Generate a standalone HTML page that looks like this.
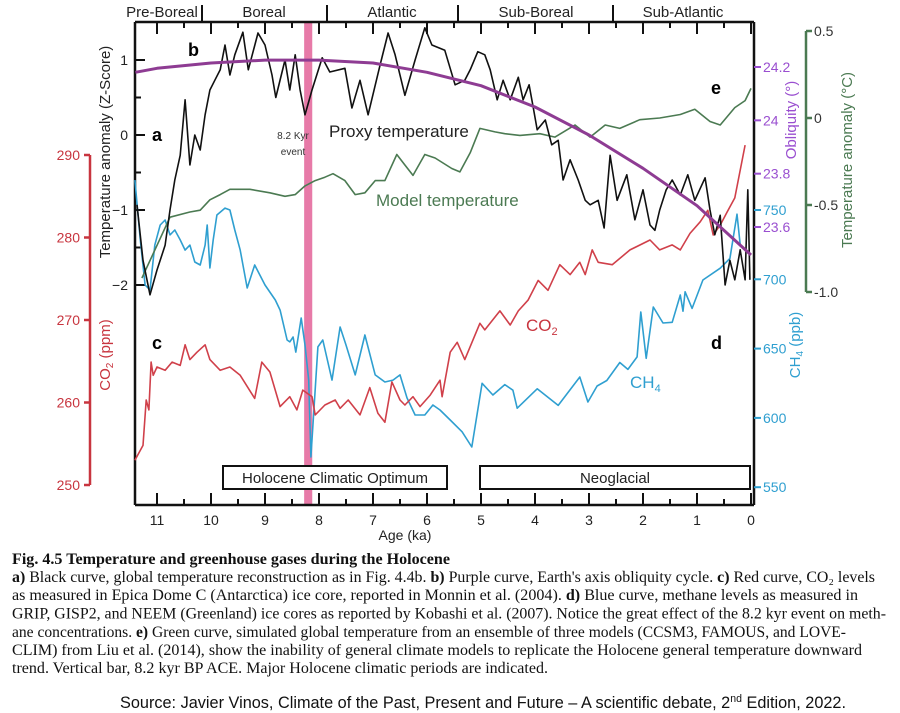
<!DOCTYPE html>
<html><head><meta charset="utf-8"><style>
html,body{margin:0;padding:0;background:#fff;}
svg{display:block;}
.sans{font-family:"Liberation Sans",sans-serif;}
.serif{font-family:"Liberation Serif",serif;}
</style></head><body>
<svg id="chart" width="900" height="713" viewBox="0 0 900 713" xmlns="http://www.w3.org/2000/svg">
<rect x="0" y="0" width="900" height="713" fill="#fff"/>
<g id="plot"></g>
<g class="sans" font-size="15" fill="#222">
<text x="162" y="17" text-anchor="middle">Pre-Boreal</text>
<text x="264" y="17" text-anchor="middle">Boreal</text>
<text x="392" y="17" text-anchor="middle">Atlantic</text>
<text x="536" y="17" text-anchor="middle">Sub-Boreal</text>
<text x="683" y="17" text-anchor="middle">Sub-Atlantic</text>
</g>
<g class="sans">
<text x="188" y="56" font-size="18" font-weight="bold">b</text>
<text x="152" y="141" font-size="18" font-weight="bold">a</text>
<text x="152" y="349" font-size="18" font-weight="bold">c</text>
<text x="711" y="349" font-size="18" font-weight="bold">d</text>
<text x="711" y="94" font-size="18" font-weight="bold">e</text>
<text x="329" y="137" font-size="17" fill="#222">Proxy temperature</text>
<text x="376" y="206" font-size="17" fill="#4b7a52">Model temperature</text>
<text x="293" y="139" font-size="10" fill="#333" text-anchor="middle">8.2 Kyr</text>
<text x="293" y="155" font-size="10" fill="#333" text-anchor="middle">event</text>
<text x="526" y="331" font-size="17" fill="#c8353f">CO<tspan font-size="11" dy="4">2</tspan></text>
<text x="630" y="388" font-size="17" fill="#2f9fd0">CH<tspan font-size="11" dy="4">4</tspan></text>
<text x="405" y="540" font-size="14" fill="#222" text-anchor="middle">Age (ka)</text>
<text transform="translate(110,152) rotate(-90)" font-size="15" fill="#222" text-anchor="middle">Temperature anomaly (Z-Score)</text>
<text transform="translate(110,355) rotate(-90)" font-size="15" fill="#c8353f" text-anchor="middle">CO<tspan font-size="10" dy="3">2</tspan><tspan dy="-3"> (ppm)</tspan></text>
<text transform="translate(796,120) rotate(-90)" font-size="15" fill="#9a4fd0" text-anchor="middle">Obliquity (°)</text>
<text transform="translate(800,345) rotate(-90)" font-size="15" fill="#2f9fd0" text-anchor="middle">CH<tspan font-size="10" dy="3">4</tspan><tspan dy="-3"> (ppb)</tspan></text>
<text transform="translate(852,160) rotate(-90)" font-size="15" fill="#4b7a52" text-anchor="middle">Temperature anomaly (°C)</text>
</g>
<g>
<rect x="223" y="466" width="224" height="23" fill="#fff" stroke="#111" stroke-width="2"/>
<text x="335" y="483" class="sans" font-size="15" text-anchor="middle" fill="#222">Holocene Climatic Optimum</text>
<rect x="480" y="466" width="270" height="23" fill="#fff" stroke="#111" stroke-width="2"/>
<text x="615" y="483" class="sans" font-size="15" text-anchor="middle" fill="#222">Neoglacial</text>
</g>
<g class="serif" font-size="16" fill="#111">
<text x="12" y="564" font-weight="bold" textLength="438" lengthAdjust="spacingAndGlyphs">Fig. 4.5 Temperature and greenhouse gases during the Holocene</text>
<text x="12" y="582" textLength="863" lengthAdjust="spacingAndGlyphs"><tspan font-weight="bold">a)</tspan> Black curve, global temperature reconstruction as in Fig. 4.4b. <tspan font-weight="bold">b)</tspan> Purple curve, Earth's axis obliquity cycle. <tspan font-weight="bold">c)</tspan> Red curve, CO₂ levels</text>
<text x="12" y="600" textLength="846" lengthAdjust="spacingAndGlyphs">as measured in Epica Dome C (Antarctica) ice core, reported in Monnin et al. (2004). <tspan font-weight="bold">d)</tspan> Blue curve, methane levels as measured in</text>
<text x="12" y="618.5" textLength="874" lengthAdjust="spacingAndGlyphs">GRIP, GISP2, and NEEM (Greenland) ice cores as reported by Kobashi et al. (2007). Notice the great effect of the 8.2 kyr event on meth-</text>
<text x="12" y="637" textLength="834" lengthAdjust="spacingAndGlyphs">ane concentrations. <tspan font-weight="bold">e)</tspan> Green curve, simulated global temperature from an ensemble of three models (CCSM3, FAMOUS, and LOVE-</text>
<text x="12" y="655" textLength="850" lengthAdjust="spacingAndGlyphs">CLIM) from Liu et al. (2014), show the inability of general climate models to replicate the Holocene general temperature downward</text>
<text x="12" y="673" textLength="536" lengthAdjust="spacingAndGlyphs">trend. Vertical bar, 8.2 kyr BP ACE. Major Holocene climatic periods are indicated.</text>
</g>
<text x="120" y="708" class="sans" font-size="17" fill="#111" textLength="726" lengthAdjust="spacingAndGlyphs">Source: Javier Vinos, Climate of the Past, Present and Future – A scientific debate, 2<tspan font-size="11" dy="-6">nd</tspan><tspan dy="6"> Edition, 2022.</tspan></text>
</svg>
<script>
const proxyAges=[11.37,11.26,11.13,11.0,10.85,10.76,10.67,10.57,10.48,10.39,10.3,10.2,10.11,10.02,9.93,9.83,9.74,9.65,9.56,9.41,9.31,9.13,9.0,8.87,8.8,8.63,8.54,8.44,8.35,8.26,8.13,7.94,7.8,7.52,7.39,7.24,7.09,6.87,6.72,6.59,6.41,6.22,6.04,5.91,5.67,5.48,5.3,5.2,5.06,4.93,4.83,4.7,4.59,4.46,4.31,4.22,4.11,4.04,3.96,3.81,3.69,3.57,3.48,3.35,3.2,3.07,2.98,2.83,2.72,2.61,2.48,2.3,2.15,2.0,1.87,1.78,1.69,1.57,1.46,1.31,1.17,1.04,0.85,0.76,0.67,0.57,0.48,0.39,0.3,0.2,0.11,0.06,0.02];
const proxyVals=[-0.93,-1.67,-2.13,-1.8,-1.47,-1.0,-0.6,-0.27,0.47,-0.4,0,-0.2,0.27,0.6,0.73,0.87,1.2,0.8,1.07,1.37,0.87,1.36,1.2,0.8,0.5,1.0,0.6,1.07,0.6,0.27,0.6,1.03,0.84,0.89,0.36,0.73,0.27,0.93,1.36,1.07,0.53,1.0,1.43,1.2,1.13,0.67,0.73,0.87,1.11,1.07,0.87,0.47,0.73,0.47,0.77,0.47,0.67,0.4,0.07,0.2,-0.13,-0.07,-0.6,-0.33,-0.6,-0.87,-0.93,-0.87,-1.24,-0.27,-0.87,-0.53,-1.13,-0.73,-1.2,-1.27,-1.0,-0.73,-0.6,-0.8,-0.53,-0.87,-0.57,-1.0,-1.33,-1.07,-2.0,-1.67,-1.93,-1.53,-1.93,-0.73,-1.93];
const oblAges=[11.4,11,10,9,8,7,6,5,4,3,2,1,0];
const oblVals=[24.18,24.195,24.215,24.226,24.226,24.215,24.18,24.13,24.05,23.945,23.82,23.68,23.495];
const modelAges=[11.28,10.76,10.39,10.2,10.02,9.83,9.65,9.28,8.91,8.63,8.44,8.26,8.07,7.89,7.74,7.52,7.33,7.15,6.96,6.78,6.56,6.41,6.26,6.04,5.85,5.54,5.39,5.2,5.02,4.74,4.56,4.28,3.91,3.63,3.26,2.98,2.7,2.43,2.06,1.69,1.31,1.04,0.76,0.57,0.3,0.11,0.0];
const modelVals=[-0.92,-0.57,-0.54,-0.53,-0.47,-0.44,-0.41,-0.41,-0.43,-0.45,-0.44,-0.39,-0.36,-0.34,-0.32,-0.36,-0.44,-0.43,-0.36,-0.36,-0.21,-0.27,-0.33,-0.21,-0.23,-0.29,-0.31,-0.2,-0.06,-0.08,-0.09,-0.1,-0.09,-0.11,-0.04,-0.11,-0.04,-0.06,-0.01,0,0.02,0.05,-0.02,-0.04,0.06,0.1,0.17];
const co2Ages=[11.41,11.26,11.2,11.15,11.11,11.07,11.0,10.85,10.72,10.57,10.48,10.39,10.26,10.11,10.02,9.83,9.65,9.46,9.19,9.06,8.91,8.72,8.54,8.41,8.3,8.13,8.07,7.89,7.7,7.61,7.46,7.24,7.06,6.91,6.78,6.65,6.5,6.41,6.26,6.13,5.94,5.76,5.72,5.57,5.44,5.3,5.02,4.93,4.65,4.46,4.31,4.13,3.94,3.76,3.54,3.35,3.17,3.07,2.94,2.83,2.57,2.24,1.87,1.69,1.46,1.31,1.13,0.94,0.8,0.7,0.57,0.44,0.3,0.11];
const co2Vals=[253.0,254.8,260.3,259.1,264.9,263.3,264.3,263.9,264.9,264.5,267.0,265.2,266.1,267.0,265.2,263.9,264.3,263.3,260.5,264.9,263.7,259.5,260.7,259.1,261.5,260.7,258.5,259.7,260.3,259.3,260.3,258.5,261.8,258.7,257.6,262.5,260.3,259.7,260.7,259.5,260.9,262.7,260.7,266.1,267.3,265.2,269.6,268.8,271.1,269.4,271.1,272.4,274.8,273.6,276.7,275.5,277.0,275.5,278.5,277.0,276.7,278.5,279.7,278.5,279.1,278.5,280.5,281.9,283.3,280.3,281.5,283.1,284.8,291.2];
const ch4Ages=[11.41,11.31,11.22,11.13,11.04,10.94,10.85,10.76,10.67,10.57,10.48,10.39,10.3,10.2,10.11,10.07,10.02,9.96,9.89,9.74,9.65,9.56,9.46,9.33,9.19,9.0,8.81,8.72,8.59,8.54,8.48,8.43,8.33,8.26,8.19,8.15,8.02,7.93,7.76,7.61,7.5,7.33,7.15,6.96,6.78,6.63,6.5,6.37,6.22,6.04,5.89,5.76,5.57,5.35,5.17,4.98,4.78,4.56,4.41,4.33,3.96,3.57,3.17,3.02,2.85,2.67,2.43,2.28,2.11,2.04,1.94,1.81,1.63,1.46,1.31,1.26,1.22,1.09,0.89,0.57,0.39,0.26,0.2];
const ch4Vals=[771.6,728.4,695.9,692.3,724.7,739.2,742.8,732.0,735.6,728.4,721.1,724.7,712.5,710.3,724.7,739.2,708.2,728.4,746.4,751.4,750,735.6,721.1,693.7,710.3,695.9,685.1,677.8,656.2,654.8,658.4,647.5,672.1,652.6,627.3,571.8,651.2,656.2,627.3,665.6,652.6,631.0,659.8,631.0,625.9,627.3,631.0,614.4,602.1,602.1,609.3,605.7,598.5,590,579,625,616.5,624,620,607,621,609,629.5,611.5,623,627,640,635,644,676.4,643,680,668.5,669,688.7,677,691,679,699.5,708,715,747,725];
const xTicks=[11,10,9,8,7,6,5,4,3,2,1,0];
const zTicks=[1,0,-1,-2];
const co2Ticks=[290,280,270,260,250];
const oblTicks=[24.2,24,23.8,23.6];
const ch4Ticks=[750,700,650,600,550];
const modelTicks=[0.5,0,-0.5,-1.0];
const modelTickLabels=['0.5','0','-0.5','-1.0'];

const X=a=>751-54*a;
const yZ=v=>135-75*v;
const yCO2=v=>155+(290-v)*8.25;
const yObl=v=>67+(24.2-v)*266.7;
const yCH4=v=>210+(750-v)*1.386;
const yG=v=>118-174*v;
const NS='http://www.w3.org/2000/svg';
const plot=document.getElementById('plot');
function mk(tag,attrs,parent){const e=document.createElementNS(NS,tag);for(const k in attrs)e.setAttribute(k,attrs[k]);(parent||plot).appendChild(e);return e;}
function line(x1,y1,x2,y2,c,w){return mk('line',{x1,y1,x2,y2,stroke:c,'stroke-width':w});}
function txt(x,y,s,c,anchor,size){const t=mk('text',{x,y,fill:c,'text-anchor':anchor,'font-size':size,'font-family':'Liberation Sans, sans-serif'});t.textContent=s;return t;}

// pink 8.2 kyr bar
const bar=mk('rect',{x:X(8.275),y:22,width:X(8.125)-X(8.275),height:483,fill:'#e77aa8'});



// frame
let f;
f=line(135,22,754,22,'#111',2.5);
f=line(135,505,754,505,'#111',2.5);
f=line(135,22,135,505,'#111',2.5);
f=line(754,22,754,505,'#111',2.5);
[202,327,458,613].forEach(x=>{const d=line(x,5,x,22,'#111',2);

});

// x ticks
xTicks.forEach(a=>{
  const x=X(a);
  const t1=line(x,505,x,493,'#111',2);
  
  
  const t2=line(x,22,x,34,'#111',2);
  
  
  if(a>0){const xm=X(a-0.5);
    const m1=line(xm,505,xm,499,'#111',2);
    
    
    const m2=line(xm,22,xm,28,'#111',2);
    
    }
  const l=txt(x,525,String(a),'#222','middle',14);
  
  
});
// z ticks
zTicks.forEach(v=>{const y=yZ(v);
  const t=line(135,y,145,y,'#111',2);
  
  
  const l=txt(128,y+5,v<0?'\u2212'+Math.abs(v):String(v),'#222','end',14);
  
  
});
[0.5,-0.5,-1.5].forEach(v=>{const t=line(135,yZ(v),141,yZ(v),'#111',2);
  
  });
// CO2 axis
f=line(90,yCO2(290),90,yCO2(250),'#c8353f',2.5);
co2Ticks.forEach(v=>{const y=yCO2(v);
  const t=line(84,y,90,y,'#c8353f',2.5);
  
  
  const l=txt(80,y+5,String(v),'#c8353f','end',14);
  
  });
// obliquity ticks
oblTicks.forEach(v=>{const y=yObl(v);
  const t=line(754,y,761,y,'#9a4fd0',2);
  
  
  const l=txt(763,y+5,String(v),'#9a4fd0','start',14);
  
  });
// CH4 ticks
ch4Ticks.forEach(v=>{const y=yCH4(v);
  const t=line(754,y,761,y,'#2f9fd0',2);
  
  
  const l=txt(763,y+5,String(v),'#2f9fd0','start',14);
  
  });
// model temp axis
f=line(806,yG(0.5),806,yG(-1),'#4b7a52',2.5);
modelTicks.forEach((v,i)=>{const y=yG(v);
  const t=line(806,y,812,y,'#4b7a52',2.5);
  
  
  const l=txt(814,y+5,modelTickLabels[i],'#333','start',14);
  
  });

function series(ages,vals,yf,color,w,name){
  const d=ages.map((a,i)=>(i?'L':'M')+X(a).toFixed(1)+','+yf(vals[i]).toFixed(1)).join(' ');
  const p=mk('path',{d,fill:'none',stroke:color,'stroke-width':w,'stroke-linejoin':'round'});
  
  
  return p;
}
series(ch4Ages,ch4Vals,yCH4,'#2f9fd0',1.6,'ch4-line');
series(co2Ages,co2Vals,yCO2,'#d0404a',1.6,'co2-line');
series(modelAges,modelVals,yG,'#4b7a52',1.6,'model-temperature-line');
series(proxyAges,proxyVals,yZ,'#111',1.6,'proxy-temperature-line');
series(oblAges,oblVals,yObl,'#8e3c93',3,'obliquity-line');
</script>
</body></html>
